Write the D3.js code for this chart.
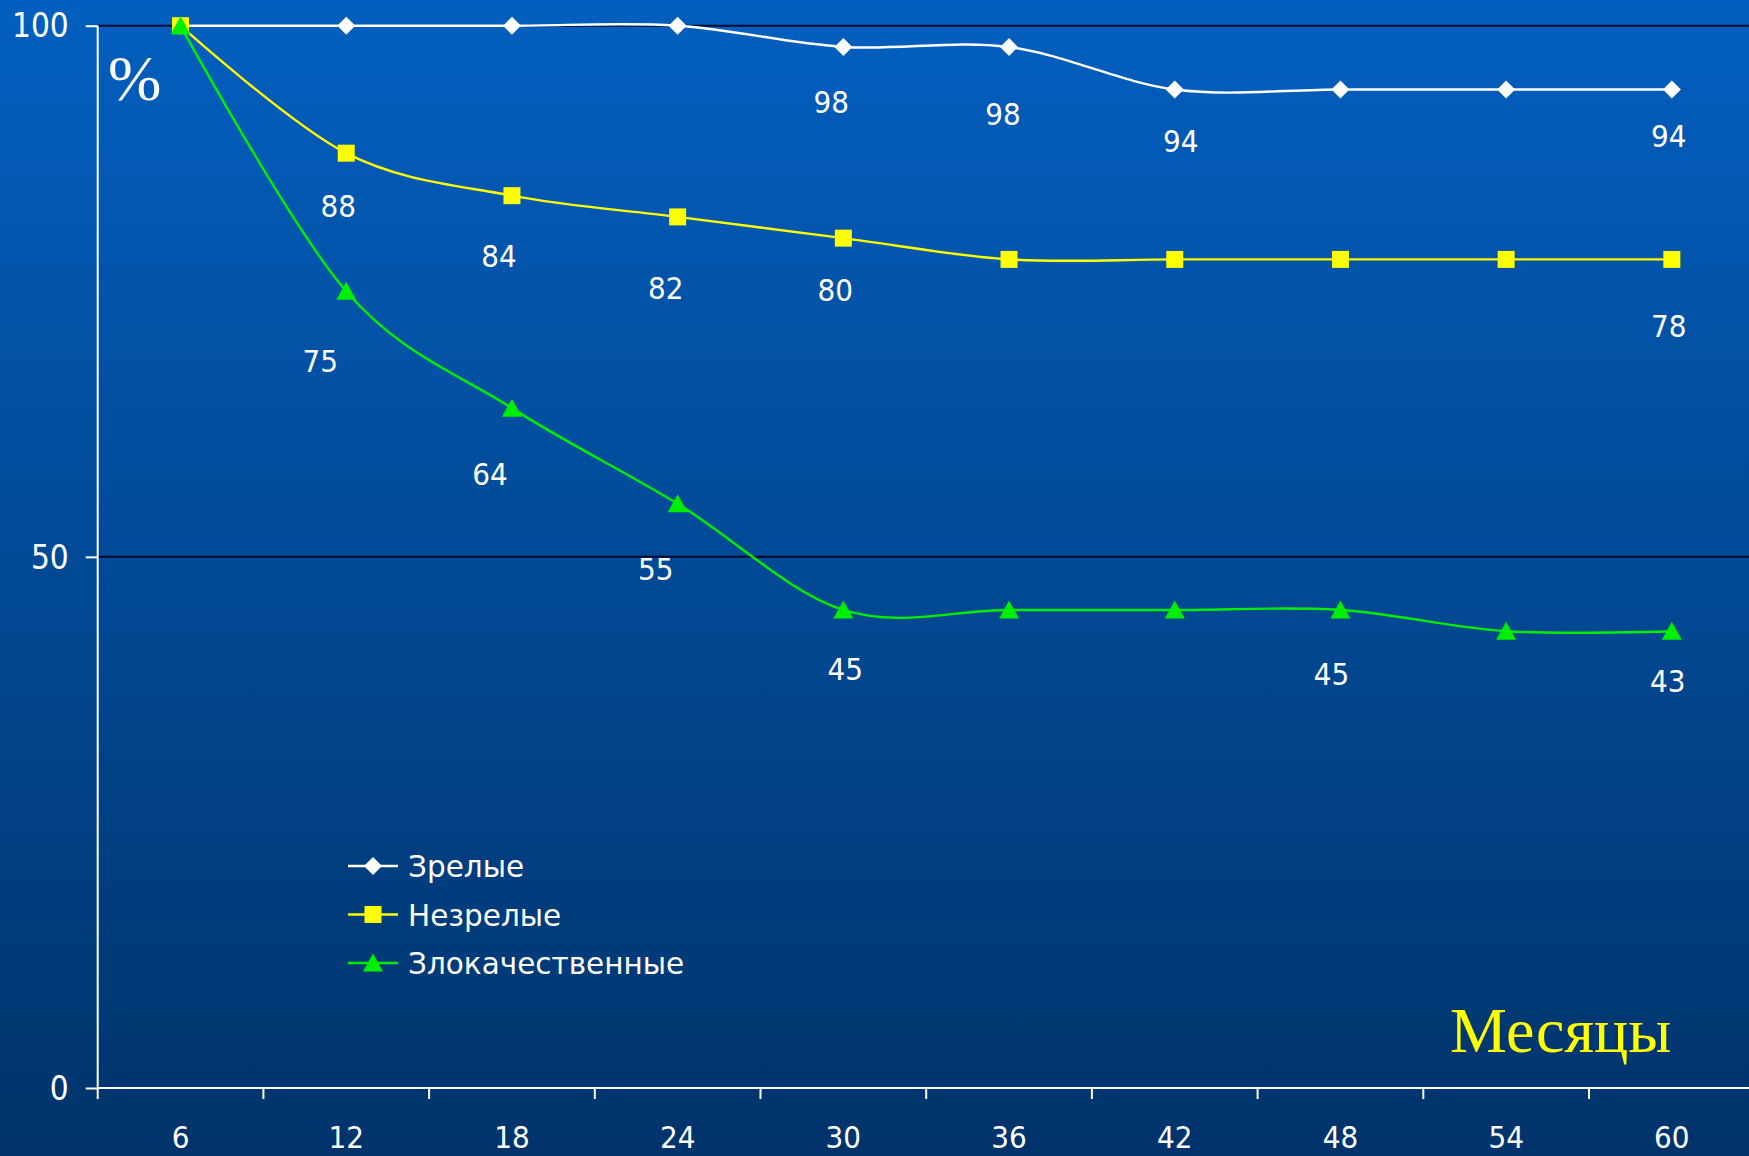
<!DOCTYPE html>
<html>
<head>
<meta charset="utf-8">
<script src="https://cdn.jsdelivr.net/npm/d3@7"></script>
<style>
  html, body { margin: 0; padding: 0; background: #00336b; overflow: hidden; }
  svg { display: block; }
</style>
</head>
<body>
<svg id="chart" width="1749" height="1156"></svg>
<script>
// ---- data ----
const months = ["6", "12", "18", "24", "30", "36", "42", "48", "54", "60"];
const matureValues    = [100, 100, 100, 100, 98, 98, 94, 94, 94, 94];
const immatureValues  = [100, 88, 84, 82, 80, 78, 78, 78, 78, 78];
const malignantValues = [100, 75, 64, 55, 45, 45, 45, 45, 43, 43];
const seriesNames = ["Зрелые", "Незрелые", "Злокачественные"];
const yTickValues = [0, 50, 100];
const xTitle = "Месяцы";
const yTitle = "%";
// indices of points that carry a data label
const matureLabelIdx    = [4, 5, 6, 9];
const immatureLabelIdx  = [1, 2, 3, 4, 9];
const malignantLabelIdx = [1, 2, 3, 4, 7, 9];

// ---- layout / style (not data) ----
const W = 1749, H = 1156;
const plotLeft = 97.7, bandW = 165.7, plotTop = 25.7, plotBottom = 1088;
const fontSans = "'DejaVu Sans Condensed', 'DejaVu Sans', sans-serif";
const fontLegend = "'DejaVu Sans', sans-serif";
const fontSerif = "'Liberation Serif', 'Times New Roman', serif";
// label nudges (dx, dy from point, px) as in the manually placed labels
const labelNudge = {
  0: [[-12, 55], [-6, 67], [6, 52], [-3, 47]],
  1: [[-8, 53], [-13, 60], [-12, 71], [-8, 52], [-3, 67]],
  2: [[-26, 70], [-22, 66], [-22, 65], [2, 59], [-9, 64], [-4, 50]]
};

const series = [
  { name: seriesNames[0], values: matureValues, labels: matureLabelIdx, color: "#ffffff", marker: "diamond" },
  { name: seriesNames[1], values: immatureValues, labels: immatureLabelIdx, color: "#ffff00", marker: "square" },
  { name: seriesNames[2], values: malignantValues, labels: malignantLabelIdx, color: "#00ee00", marker: "triangle" }
];

const svg = d3.select("#chart");

// background gradient
const defs = svg.append("defs");
const grad = defs.append("linearGradient").attr("id", "bg").attr("x1", 0).attr("y1", 0).attr("x2", 0).attr("y2", 1);
grad.append("stop").attr("offset", "0%").attr("stop-color", "#035fbf");
grad.append("stop").attr("offset", "100%").attr("stop-color", "#00336a");
svg.append("rect").attr("width", W).attr("height", H).attr("fill", "url(#bg)");

// scales
const x = d3.scaleBand().domain(months).range([plotLeft, plotLeft + bandW * months.length]).padding(0);
const y = d3.scaleLinear().domain([0, 100]).range([plotBottom, plotTop]);
const cx = d => x(d) + x.bandwidth() / 2;

// gridlines (50, 100)
svg.append("g").selectAll("line")
  .data(yTickValues.filter(v => v > 0))
  .join("line")
  .attr("x1", plotLeft).attr("x2", W)
  .attr("y1", d => y(d)).attr("y2", d => y(d))
  .attr("stroke", "#000a30").attr("stroke-width", 2);

// y axis
const yAxis = d3.axisLeft(y).tickValues(yTickValues).tickSize(12).tickPadding(17).tickFormat(d3.format("d"));
const gy = svg.append("g").attr("transform", `translate(${plotLeft},0)`).call(yAxis);
gy.select(".domain").remove();
gy.selectAll(".tick line").attr("stroke", "#ffffff").attr("stroke-width", 2);
gy.selectAll(".tick text").attr("fill", "#ffffff").style("font-family", fontSans).style("font-size", "33px").attr("dy", "0.34em");
svg.append("line").attr("x1", plotLeft).attr("x2", plotLeft).attr("y1", plotTop).attr("y2", plotBottom + 1)
  .attr("stroke", "#ffffff").attr("stroke-width", 2);

// x axis
const xAxis = d3.axisBottom(x).tickSize(0).tickPadding(38);
const gx = svg.append("g").attr("transform", `translate(0,${plotBottom})`).call(xAxis);
gx.select(".domain").remove();
gx.selectAll(".tick text").attr("fill", "#ffffff").style("font-family", fontSans).style("font-size", "31px");
svg.append("line").attr("x1", plotLeft).attr("x2", W).attr("y1", plotBottom).attr("y2", plotBottom)
  .attr("stroke", "#ffffff").attr("stroke-width", 2);
// boundary ticks between categories
svg.append("g").selectAll("line")
  .data(months)
  .join("line")
  .attr("x1", d => x(d)).attr("x2", d => x(d))
  .attr("y1", plotBottom).attr("y2", plotBottom + 11)
  .attr("stroke", "#ffffff").attr("stroke-width", 2);

// marker drawing
function markerPath(type) {
  if (type === "diamond") return "M0,-9L9,0L0,9L-9,0Z";
  if (type === "square") return "M-8.5,-8.5H8.5V8.5H-8.5Z";
  return "M0,-9.5L10,8.5L-10,8.5Z";
}

const line = d3.line()
  .x((d, i) => cx(months[i]))
  .y(d => y(d))
  .curve(d3.curveCardinal.tension(0));

series.forEach(s => {
  svg.append("path")
    .attr("d", line(s.values))
    .attr("fill", "none")
    .attr("stroke", s.color)
    .attr("stroke-width", 2.4);
});

series.forEach(s => {
  svg.append("g").selectAll("path")
    .data(s.values)
    .join("path")
    .attr("d", markerPath(s.marker))
    .attr("transform", (d, i) => `translate(${cx(months[i])},${y(d)})`)
    .attr("fill", s.color);
});

// data labels
series.forEach((s, si) => {
  svg.append("g").selectAll("text")
    .data(s.labels)
    .join("text")
    .attr("x", (idx, k) => cx(months[idx]) + labelNudge[si][k][0])
    .attr("y", (idx, k) => y(s.values[idx]) + labelNudge[si][k][1] + 11)
    .attr("text-anchor", "middle")
    .attr("fill", "#ffffff")
    .style("font-family", fontSans)
    .style("font-size", "31px")
    .text(idx => s.values[idx]);
});

// legend
const legend = svg.append("g").attr("transform", "translate(348,866)");
series.forEach((s, i) => {
  const g = legend.append("g").attr("transform", `translate(0,${i * 48.5})`);
  g.append("line").attr("x1", 0).attr("x2", 50).attr("y1", 0).attr("y2", 0)
    .attr("stroke", s.color).attr("stroke-width", 2.4);
  g.append("path").attr("d", markerPath(s.marker)).attr("transform", "translate(25,0)").attr("fill", s.color);
  g.append("text").attr("x", 60).attr("y", 11)
    .attr("fill", "#ffffff")
    .style("font-family", fontLegend).style("font-size", "29.5px")
    .text(s.name);
});

// titles
svg.append("text").attr("x", 108).attr("y", 100)
  .attr("fill", "#ffffff").style("font-family", fontSerif).style("font-size", "64px")
  .text(yTitle);
svg.append("text").attr("x", 1450).attr("y", 1052)
  .attr("fill", "#ffff00").style("font-family", fontSerif).style("font-size", "64px")
  .text(xTitle);
</script>
</body>
</html>
